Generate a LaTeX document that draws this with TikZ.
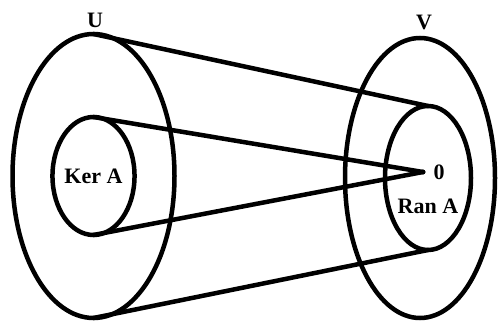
\documentclass[tikz,border=0pt]{standalone}
\usepackage{fontspec}
\setmainfont{Liberation Serif}
\usetikzlibrary{shapes.geometric}
\begin{document}
\begin{tikzpicture}[x=1pt,y=-1pt,
  ring/.style={draw,ellipse,line width=4.5pt,inner sep=0pt,outer sep=0pt},
  conn/.style={line width=4.5pt,line cap=round},
  lbl/.style={font=\fontsize{22}{26}\selectfont\bfseries,inner sep=0pt}]
\useasboundingbox (0,0) rectangle (498,321);
\node[ring,minimum width=162pt,minimum height=284pt] (U) at (93.5,176) {};
\node[ring,minimum width=76pt,minimum height=118pt,lbl] (Ker) at (93.5,176) {Ker A};
\node[ring,minimum width=150pt,minimum height=280pt] (V) at (420,178) {};
\node[ring,minimum width=86pt,minimum height=144pt] (Ran) at (428,178) {};
\node[lbl] (Ul) at (95,20) {U};
\node[lbl] (Vl) at (424,22) {V};
\node[lbl] (Ranl) at (428,206) {Ran A};
\node[lbl] (zl) at (439,172) {0};
\node[circle,fill,inner sep=0pt,minimum size=5pt] (zero) at (423,172) {};
\draw[conn] (U.north) -- (Ran.north);
\draw[conn] (U.south) -- (Ran.south);
\draw[conn] (Ker.north) -- (zero.center);
\draw[conn] (Ker.south) -- (zero.center);
\end{tikzpicture}
\end{document}
